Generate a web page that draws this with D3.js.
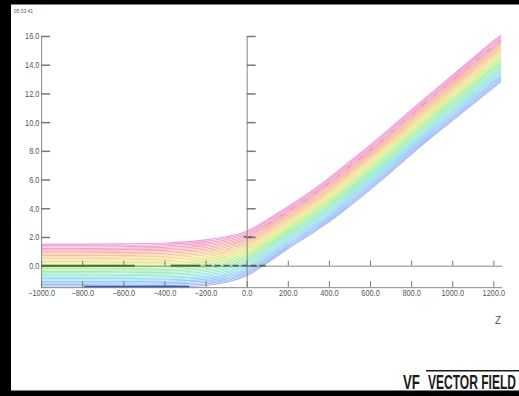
<!DOCTYPE html>
<html>
<head>
<meta charset="utf-8">
<script src="https://cdn.jsdelivr.net/npm/d3@7"></script>
<style>
  body { margin: 0; background: #fff; }
  svg { display: block; }
  .tk text { font-family: "Liberation Sans", Arial, sans-serif; font-size: 9px; fill: #555; }
</style>
</head>
<body>
<svg id="chart" width="519" height="396"></svg>
<script>
// envelope of the trajectory bundle (z, x)
const zPoints   = [-1000, -800, -600, -400, -300, -200, -100, 0, 100, 200, 300, 400, 500, 600, 700, 800, 900, 1000, 1100, 1200, 1237];
const topEdge   = [1.50, 1.50, 1.52, 1.58, 1.66, 1.80, 2.02, 2.40, 3.20, 4.10, 5.05, 6.10, 7.25, 8.40, 9.60, 10.85, 12.05, 13.25, 14.45, 15.65, 16.07];
const bottomEdge = [-1.50, -1.50, -1.50, -1.49, -1.46, -1.38, -1.15, -0.70, 0.20, 1.18, 2.10, 3.05, 4.15, 5.30, 6.50, 7.75, 8.95, 10.10, 11.25, 12.40, 12.82];

// starting height of every line at z = -1000
const lineStarts = [1.50, 1.40, 1.30, 1.20, 1.10, 1.00, 0.90, 0.80, 0.70, 0.60, 0.50, 0.40, 0.30, 0.20, 0.10,
                    0.00, -0.10, -0.20, -0.30, -0.40, -0.50, -0.60, -0.70, -0.80, -0.90, -1.00, -1.10, -1.20, -1.30, -1.40, -1.50];
const lineColors = ['#ee9ee0', '#f4a2c6', '#f8b2a6', '#f8cc9a', '#f2ea92', '#d2f092', '#a2eea2', '#9aeed2', '#9ae0f0', '#9ec8f8', '#a2b2f8'];

const xTicks = [-1000, -800, -600, -400, -200, 0, 200, 400, 600, 800, 1000, 1200];
const yTicks = [0, 2, 4, 6, 8, 10, 12, 14, 16];

// reference orbit marks
const greenSolid = [[-1000, -545], [-370, -225]];
const greenDash = [-200, 95];
const blueLine = [-790, -280];
const blueLevel = -1.45;
const markAt2 = [-15, 35];

const svg = d3.select('#chart');
const x = d3.scaleLinear().domain([-1000, 1240]).range([41.1, 501.6]);
const y = d3.scaleLinear().domain([-1.5, 16]).range([287.2, 36]);

// frame
svg.append('rect').attr('x', 0).attr('y', 0).attr('width', 519).attr('height', 4.5).attr('fill', '#000');
svg.append('rect').attr('x', 0).attr('y', 0).attr('width', 11).attr('height', 396).attr('fill', '#000');
svg.append('rect').attr('x', 0).attr('y', 390.5).attr('width', 519).attr('height', 6).attr('fill', '#000');

svg.append('text').attr('x', 14).attr('y', 12.5).text('05:33:41')
  .attr('font-family', '"Liberation Sans", Arial, sans-serif')
  .attr('font-size', '6px').attr('fill', '#555')
  .attr('textLength', 19).attr('lengthAdjust', 'spacingAndGlyphs');

// bundle
const colorAt = d3.interpolateRgbBasis(lineColors);
const line = d3.line().x(d => x(d[0])).y(d => y(d[1])).curve(d3.curveMonotoneX);
const bundle = svg.append('g');
lineStarts.forEach((s, i) => {
  const t = (1.5 - s) / 3;
  const pts = zPoints.map((z, k) => [z, topEdge[k] - t * (topEdge[k] - bottomEdge[k])]);
  bundle.append('path')
    .attr('d', line(pts))
    .attr('fill', 'none')
    .attr('stroke', colorAt(i / (lineStarts.length - 1)))
    .attr('stroke-width', 1.1);
});

// faint darker reference inside the pink band
const refT = (1.5 - 1.15) / 3;
svg.append('path')
  .attr('d', line(zPoints.map((z, k) => [z, topEdge[k] - refT * (topEdge[k] - bottomEdge[k])]).filter(d => d[0] >= 100)))
  .attr('fill', 'none').attr('stroke', '#d86a98').attr('stroke-opacity', 0.5)
  .attr('stroke-width', 1).attr('stroke-dasharray', '5,9');

// axes
const styleAxis = g => {
  g.attr('class', 'tk');
  g.selectAll('path, line').attr('stroke', '#777');
  g.select('.domain').attr('stroke', '#888');
  g.selectAll('text').attr('transform', 'scale(0.82,1)');
};

svg.append('g').attr('transform', `translate(${x(-1000)},0)`)
  .call(d3.axisLeft(y).tickValues(yTicks).tickFormat(d3.format('.1f')).tickSizeInner(-9).tickSizeOuter(0).tickPadding(2))
  .call(styleAxis)
  .call(g => g.selectAll('.tick line').attr('stroke-width', 1.5));

svg.append('g').attr('transform', `translate(${x(0)},0)`)
  .call(d3.axisLeft(y).tickValues(yTicks).tickFormat('').tickSizeInner(-9).tickSizeOuter(0))
  .call(styleAxis)
  .call(g => g.selectAll('.tick line').attr('stroke-width', 1.5));

svg.append('g').attr('transform', `translate(0,${y(0)})`)
  .call(d3.axisBottom(x).tickValues(xTicks).tickFormat('').tickSizeInner(-5).tickSizeOuter(0))
  .call(styleAxis);

svg.append('g').attr('transform', `translate(0,${y(-1.5)})`)
  .call(d3.axisBottom(x).tickValues(xTicks).tickFormat(d3.format('.1f')).tickSizeInner(-6).tickSizeOuter(0).tickPadding(2))
  .call(styleAxis);

// reference orbit marks
greenSolid.forEach(seg => {
  svg.append('line').attr('x1', x(seg[0])).attr('x2', x(seg[1])).attr('y1', y(0)).attr('y2', y(0))
    .attr('stroke', '#4b6b3b').attr('stroke-width', 2);
});
svg.append('line').attr('x1', x(greenDash[0])).attr('x2', x(greenDash[1])).attr('y1', y(0)).attr('y2', y(0))
  .attr('stroke', '#4b6b4b').attr('stroke-width', 1.6).attr('stroke-dasharray', '6,3');
svg.append('line').attr('x1', x(blueLine[0])).attr('x2', x(blueLine[1])).attr('y1', y(blueLevel)).attr('y2', y(blueLevel))
  .attr('stroke', '#3a56a8').attr('stroke-width', 1.5);
svg.append('line').attr('x1', x(markAt2[0])).attr('x2', x(markAt2[1])).attr('y1', y(2)).attr('y2', y(2))
  .attr('stroke', '#603838').attr('stroke-width', 1.2).attr('stroke-dasharray', '3,2');

// axis title
svg.append('text').attr('x', 498).attr('y', 324).attr('text-anchor', 'middle').text('Z')
  .attr('font-family', '"Liberation Sans", Arial, sans-serif')
  .attr('font-size', '10px').attr('fill', '#555');

// logo
const logoFont = '"Liberation Sans", Arial, sans-serif';
svg.append('text').attr('x', 403).attr('y', 388.5).text('VF')
  .attr('font-family', logoFont).attr('font-weight', 'bold').attr('font-size', '21px')
  .attr('textLength', 17).attr('lengthAdjust', 'spacingAndGlyphs').attr('fill', '#1a1a1a');
svg.append('line').attr('x1', 426).attr('x2', 519).attr('y1', 370.8).attr('y2', 370.8)
  .attr('stroke', '#1a1a1a').attr('stroke-width', 1.5);
svg.append('text').attr('x', 428).attr('y', 388.5).text('VECTOR FIELD')
  .attr('font-family', logoFont).attr('font-weight', 'bold').attr('font-size', '21px')
  .attr('textLength', 88).attr('lengthAdjust', 'spacingAndGlyphs').attr('fill', '#1a1a1a');
</script>
</body>
</html>
